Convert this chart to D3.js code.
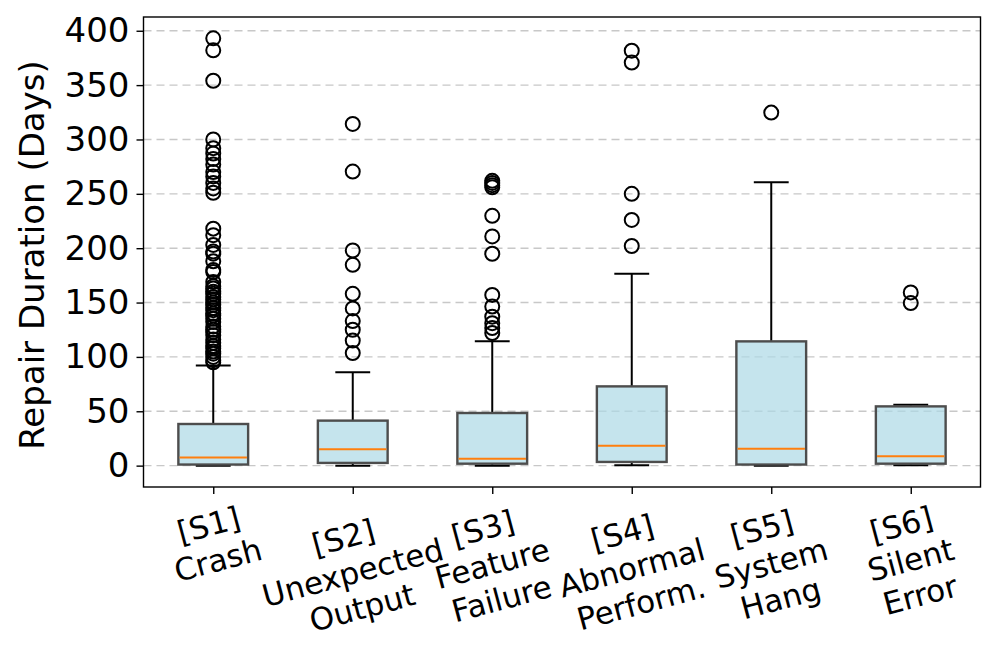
<!DOCTYPE html>
<html>
<head>
<meta charset="utf-8">
<script src="https://cdn.jsdelivr.net/npm/d3@7"></script>
<style>
  html, body { margin: 0; padding: 0; background: #fff; }
  svg { display: block; }
  text { font-family: "DejaVu Sans", sans-serif; fill: #000; }
</style>
</head>
<body>
<svg id="chart" width="997" height="663"></svg>
<script>
// ---- data ----
const categories = ["[S1]\nCrash", "[S2]\nUnexpected\nOutput", "[S3]\nFeature\nFailure",
                    "[S4]\nAbnormal\nPerform.", "[S5]\nSystem\nHang", "[S6]\nSilent\nError"];
const whiskerLow  = [0, 0, 0, 0.3, 0, 0.3];
const q1Values    = [1, 2.5, 1.8, 3.4, 1, 1.8];
const medianValues= [7.4, 15, 6.4, 18.4, 15.6, 8.6];
const q3Values    = [38.3, 41.4, 48.4, 72.9, 114.3, 54.5];
const whiskerHigh = [92, 86, 114.3, 176.5, 260.7, 56];
const fliersS1 = [95, 97, 100, 103, 105, 108, 110, 113, 116, 120, 123, 125, 128, 132, 135, 138,
                  140, 143, 145, 148, 150, 153, 155, 158, 160, 163, 165, 169, 178, 180, 188, 195,
                  197, 203, 212, 218, 251, 255, 260, 266, 270, 277, 282, 287, 292, 300, 354, 382, 393];
const fliersS2 = [103.6, 115, 125, 133, 144.6, 158, 184.7, 197.9, 270.5, 314.3];
const fliersS3 = [122, 126.5, 131, 137, 146.4, 157, 194.9, 210.8, 229.8, 256, 258, 260, 262];
const fliersS4 = [202, 226, 250, 370.7, 381.7];
const fliersS5 = [324.7];
const fliersS6 = [149.5, 159.3];
const fliers = [fliersS1, fliersS2, fliersS3, fliersS4, fliersS5, fliersS6];
const yTicks = [0, 50, 100, 150, 200, 250, 300, 350, 400];
const yLabel = "Repair Duration (Days)";

// ---- layout ----
const svg = d3.select("#chart");
const L = 143.5, R = 980.5, T = 17, B = 487;
const x = d3.scaleLinear().domain([0.5, 6.5]).range([L, R]);
const y = d3.scaleLinear().domain([-19.65, 412.65]).range([B, T]);
const boxW = x(1.25) - x(1);   // half box width (0.25 units)
const capW = x(1.125) - x(1);

// grid
svg.append("g").selectAll("line").data(yTicks).join("line")
  .attr("x1", L).attr("x2", R)
  .attr("y1", d => y(d)).attr("y2", d => y(d))
  .attr("stroke", "#c8c8c8").attr("stroke-width", 1.4)
  .attr("stroke-dasharray", "8,5");

const boxes = svg.append("g");
categories.forEach((c, i) => {
  const cx = x(i + 1);
  const g = boxes.append("g");
  g.append("line").attr("x1", cx).attr("x2", cx)
    .attr("y1", y(q3Values[i])).attr("y2", y(whiskerHigh[i]))
    .attr("stroke", "#000").attr("stroke-width", 2);
  g.append("line").attr("x1", cx).attr("x2", cx)
    .attr("y1", y(q1Values[i])).attr("y2", y(whiskerLow[i]))
    .attr("stroke", "#000").attr("stroke-width", 2);
  [whiskerHigh[i], whiskerLow[i]].forEach(v => {
    g.append("line").attr("x1", cx - capW).attr("x2", cx + capW)
      .attr("y1", y(v)).attr("y2", y(v))
      .attr("stroke", "#000").attr("stroke-width", 2);
  });
  g.append("rect")
    .attr("x", cx - boxW).attr("width", 2 * boxW)
    .attr("y", y(q3Values[i])).attr("height", y(q1Values[i]) - y(q3Values[i]))
    .attr("fill", "#add8e6").attr("fill-opacity", 0.7)
    .attr("stroke", "#4d4d4d").attr("stroke-width", 2.4);
  g.append("line").attr("x1", cx - boxW + 1.2).attr("x2", cx + boxW - 1.2)
    .attr("y1", y(medianValues[i])).attr("y2", y(medianValues[i]))
    .attr("stroke", "#ff7f0e").attr("stroke-width", 2);
  g.selectAll("circle").data(fliers[i]).join("circle")
    .attr("cx", cx).attr("cy", d => y(d)).attr("r", 7)
    .attr("fill", "none").attr("stroke", "#000").attr("stroke-width", 2);
});

// spines
svg.append("rect").attr("x", L).attr("y", T).attr("width", R - L).attr("height", B - T)
  .attr("fill", "none").attr("stroke", "#000").attr("stroke-width", 1.4);

// y axis ticks
const yAxis = d3.axisLeft(y).tickValues(yTicks).tickSize(7).tickPadding(7);
const ya = svg.append("g").attr("transform", `translate(${L},0)`).call(yAxis);
ya.select(".domain").remove();
ya.selectAll(".tick line").attr("stroke", "#000").attr("stroke-width", 1.4);
ya.selectAll(".tick text").style("font-family", "DejaVu Sans").style("font-size", "34px").attr("fill", "#000");

// x axis ticks
const xAxis = d3.axisBottom(x).tickValues(d3.range(1, 7)).tickSize(7).tickFormat("");
const xa = svg.append("g").attr("transform", `translate(0,${B})`).call(xAxis);
xa.select(".domain").remove();
xa.selectAll(".tick line").attr("stroke", "#000").attr("stroke-width", 1.4);

// rotated multi-line x labels
const fs = 31, angle = -15;
categories.forEach((c, i) => {
  const g = svg.append("g");
  const t = g.append("text").attr("text-anchor", "middle").style("font-size", fs + "px");
  c.split("\n").forEach((ln, k) => {
    t.append("tspan").attr("x", 0).attr("dy", k === 0 ? 0 : 1.17 * fs).text(ln);
  });
  const bb = t.node().getBBox();
  const a = angle * Math.PI / 180;
  const corners = [[bb.x, bb.y], [bb.x + bb.width, bb.y], [bb.x, bb.y + bb.height], [bb.x + bb.width, bb.y + bb.height]]
    .map(([px, py]) => [px * Math.cos(a) - py * Math.sin(a), px * Math.sin(a) + py * Math.cos(a)]);
  const minX = d3.min(corners, d => d[0]), maxX = d3.max(corners, d => d[0]);
  const minY = d3.min(corners, d => d[1]);
  const tx = x(i + 1) - (minX + maxX) / 2;
  const ty = B + 7 + 2 - minY;
  t.attr("transform", `rotate(${angle})`);
  g.attr("transform", `translate(${tx},${ty})`);
});

// y label
svg.append("text")
  .attr("transform", `translate(44,255) rotate(-90)`)
  .attr("text-anchor", "middle")
  .style("font-size", "34px")
  .text(yLabel);
</script>
</body>
</html>
